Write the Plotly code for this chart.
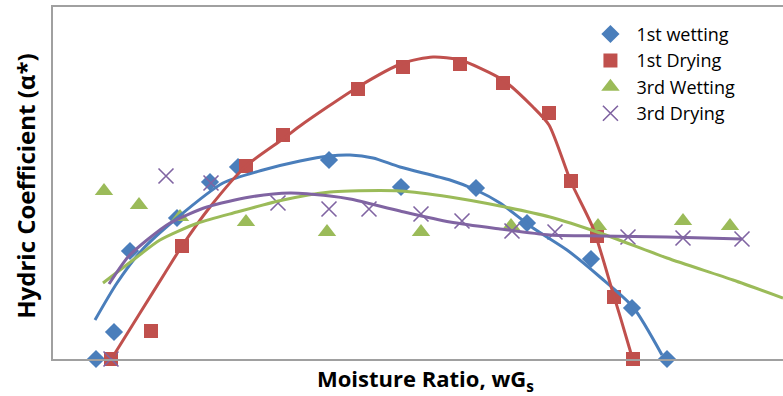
import plotly.graph_objects as go

w1_x = [43, 61, 77, 124, 157, 185, 276, 348, 423, 474, 538, 579, 614]
w1_y = [0, 27, 108, 141, 177, 192, 199, 172, 171, 136, 100, 51, 0]

d1_x = [58, 98, 129, 193, 230, 305, 350, 407, 450, 496, 518, 544, 561, 580]
d1_y = [0, 28, 113, 193, 224, 270, 292, 295, 276, 246, 178, 123, 62, 0]

w3_x = [51, 86, 127, 193, 274, 368, 458, 545, 630, 677]
w3_y = [168, 154, 142, 137, 127, 127, 133, 133, 138, 133]

d3_x = [58, 113, 158, 225, 276, 316, 368, 409, 459, 502, 575, 630, 689]
d3_y = [0, 183, 176, 156, 150, 150, 145, 138, 128, 127, 122, 121, 120]

# Trendlines
t_w1_x = [42, 64, 89, 124, 170, 210, 247, 276, 297, 320, 347, 397, 423, 447, 480, 514, 547, 580, 609]
t_w1_y = [39, 76, 109, 141, 176, 189, 198, 203, 204, 201, 192, 179, 169, 156, 131, 109, 82, 52, 4]

t_d1_x = [59, 87, 112, 129, 157, 193, 230, 247, 305, 350, 380, 407, 450, 480, 496, 518, 540, 560, 577, 579]
t_d1_y = [1, 46, 86, 113, 152, 193, 220, 233, 272, 296, 302, 299, 279, 252, 234, 177, 131, 66, 9, 1]

t_w3_x = [50, 84, 107, 145, 184, 230, 277, 297, 347, 397, 447, 497, 547, 614, 680, 730]
t_w3_y = [76, 102, 119, 136, 147, 159, 167, 168, 168, 162, 153, 142, 126, 101, 79, 61]

t_d3_x = [56, 75, 94, 117, 154, 197, 237, 277, 297, 347, 397, 447, 497, 547, 614, 689]
t_d3_y = [75, 102, 119, 136, 152, 162, 166, 163, 160, 148, 137, 130, 124, 123, 122, 120]

names = ["1st wetting", "1st Drying", "3rd Wetting", "3rd Drying"]
colors = ["#4A7EBB", "#C0504D", "#9BBB59", "#8064A2"]
x_title = "<b>Moisture Ratio, wG<sub>s</sub></b>"
y_title = "<b>Hydric Coefficient (α*)</b>"

fig = go.Figure()

marker_specs = [
    (w1_x, w1_y, dict(symbol="diamond", size=14, color=colors[0])),
    (d1_x, d1_y, dict(symbol="square", size=14, color=colors[1])),
    (w3_x, w3_y, dict(symbol="triangle-up", size=16, color=colors[2])),
    (d3_x, d3_y, dict(symbol="x-thin", size=15, color=colors[3],
                      line=dict(color=colors[3], width=1.6))),
]
for (xs, ys, mk), nm in zip(marker_specs, names):
    fig.add_trace(go.Scatter(x=xs, y=ys, mode="markers", name=nm, marker=mk,
                             cliponaxis=False))

for (xs, ys), c in zip([(t_w1_x, t_w1_y), (t_d1_x, t_d1_y), (t_w3_x, t_w3_y), (t_d3_x, t_d3_y)], colors):
    fig.add_trace(go.Scatter(x=xs, y=ys, mode="lines", showlegend=False, hoverinfo="skip",
                             line=dict(color=c, width=3, shape="spline", smoothing=0.7)))

fig.update_layout(
    width=783, height=396,
    margin=dict(l=53, r=0, t=7, b=37),
    plot_bgcolor="white", paper_bgcolor="white",
    font=dict(family="Open Sans", color="black"),
    xaxis=dict(range=[0, 730], showgrid=False, zeroline=False, showticklabels=False,
               ticks="", showline=True, linecolor="#A0A0A0", linewidth=1.5, mirror=True),
    yaxis=dict(range=[0, 352], showgrid=False, zeroline=False, showticklabels=False,
               ticks="", showline=True, linecolor="#A0A0A0", linewidth=1.5),
    legend=dict(x=0.728, y=0.975, xanchor="left", yanchor="top", bgcolor="rgba(0,0,0,0)",
                font=dict(size=18), tracegroupgap=0, itemsizing="trace", itemwidth=42),
    annotations=[
        dict(text=x_title, xref="paper", yref="paper", x=0.51, y=-0.06,
             xanchor="center", yanchor="middle", showarrow=False, font=dict(size=22)),
        dict(text=y_title, xref="paper", yref="paper", x=-0.038, y=0.49,
             xanchor="center", yanchor="middle", showarrow=False, textangle=-90,
             font=dict(size=24)),
    ],
)

fig.write_html("out.html")
